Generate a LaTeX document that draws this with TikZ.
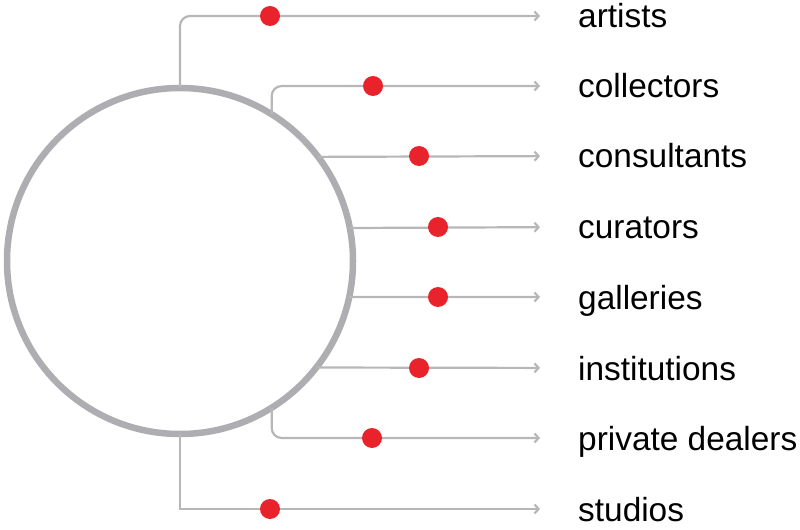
\documentclass[tikz,border=0pt]{standalone}
\usepackage{fontspec}
\setmainfont{Liberation Sans}
\usetikzlibrary{arrows.meta, positioning}
\definecolor{linegray}{HTML}{B7B7BA}
\definecolor{ringgray}{HTML}{AEAEB2}
\definecolor{dotred}{HTML}{E8232B}

\begin{document}
\begin{tikzpicture}[
        x=1bp, y=-1bp,
        >={Straight Barb[length=4bp, width=9bp]},
        hub/.style={circle, draw=ringgray, line width=6.5bp, fill=white,
                    minimum size=346bp, inner sep=0pt, outer sep=0pt},
        lbl/.style={anchor=west, inner sep=0pt, text height=24bp, text depth=0pt,
                    font=\fontsize{33.4bp}{40bp}\selectfont},
        conn/.style={draw=linegray, line width=2.2bp, ->, shorten >=38bp},
        dot/.style={circle, fill=dotred, minimum size=20bp, inner sep=0pt}
    ]
        \useasboundingbox (0,0) rectangle (800,530);

        \node[hub] (hub) at (180,261) {};

        \node[lbl] (artists)      at (578,16)  {artists};
        \node[lbl] (collectors)   at (578,86)  {collectors};
        \node[lbl] (consultants)  at (578,156) {consultants};
        \node[lbl] (curators)     at (578,227) {curators};
        \node[lbl] (galleries)    at (578,297) {galleries};
        \node[lbl] (institutions) at (578,368) {institutions};
        \node[lbl] (dealers)      at (578,438) {private dealers};
        \node[lbl] (studios)      at (578,509) {studios};

        \draw[conn, rounded corners=10bp] (hub.north) |- (artists.west);
        \draw[conn, rounded corners=10bp] (hub.58.65) |- (collectors.west);
        \draw[conn] (hub.37.37) -- (consultants.west);
        \draw[conn] (hub.11.33) -- (curators.west);
        \draw[conn] (hub.-12.01) -- (galleries.west);
        \draw[conn] (hub.-38.21) -- (institutions.west);
        \draw[conn, rounded corners=10bp] (hub.-58.65) |- (dealers.west);
        \draw[conn] (hub.south) |- (studios.west);

        % dots on the connectors
        \node[dot] (d-artists)      at (270,16)  {};
        \node[dot] (d-collectors)   at (373,86)  {};
        \node[dot] (d-consultants)  at (419,156) {};
        \node[dot] (d-curators)     at (438,227) {};
        \node[dot] (d-galleries)    at (438,297) {};
        \node[dot] (d-institutions) at (419,368) {};
        \node[dot] (d-dealers)      at (372,438) {};
        \node[dot] (d-studios)      at (270,509) {};
    \end{tikzpicture}
\end{document}
